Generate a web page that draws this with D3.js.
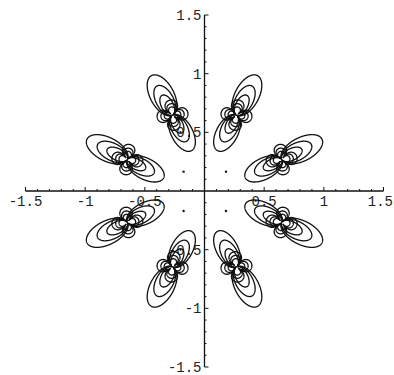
<!DOCTYPE html>
<html>
<head>
<meta charset="utf-8">
<script src="https://cdn.jsdelivr.net/npm/d3@7"></script>
<style>
  html, body { margin: 0; padding: 0; background: #fff; }
  svg { display: block; }
  text { font-family: "Liberation Mono", "DejaVu Sans Mono", monospace; font-size: 14px; fill: #222; }
</style>
</head>
<body>
<svg id="chart" width="394" height="375"></svg>
<script>
// Eight singular points on a ring, each with dipole-like lobes and four small petals
const clusterAngles = [22.5, 67.5, 112.5, 157.5, 202.5, 247.5, 292.5, 337.5];
const clusterHand   = [1, -1, 1, -1, 1, -1, 1, -1];
const clusterRadius = 0.70;

// contour reach of the lobes (from the centre to the tip) and of the petals
const lobeLengths = [0.38, 0.28, 0.19];
const petalReach  = [0.13, 0.098, 0.07];

// isolated points near the origin
const dotX = [-0.175, 0.18, -0.175, 0.18];
const dotY = [0.165, 0.165, -0.17, -0.17];

// axis ticks
const majorTicks = [-1.5, -1, -0.5, 0.5, 1, 1.5];
const tickLabels = ["-1.5", "-1", "-0.5", "0.5", "1", "1.5"];

const W = 394;
const svg = d3.select("#chart");
const x = d3.scaleLinear().domain([-1.5, 1.5]).range([25.5, 383.5]);
const y = d3.scaleLinear().domain([-1.5, 1.5]).range([367, 15]);

// ---- local field around one singular point (u: radial, v: tangential) ----
const h = 0.002, u0 = -0.42, v0 = -0.22;
const n = 420, m = 220;
const lobeTilt = 5 * Math.PI / 180;      // lobe axis vs radial direction
const petalRot = -15 * Math.PI / 180;    // petal axis vs radial direction
const aspect = 1.9;                      // lobe elongation
const inwardScale = 0.9;                 // inner lobe relative size

const lobeField = new Float64Array(n * m);
const petalField = new Float64Array(n * m);
const cT = Math.cos(lobeTilt), sT = Math.sin(lobeTilt);
for (let j = 0; j < m; j++) {
  const v = v0 + (j + 0.5) * h;
  for (let i = 0; i < n; i++) {
    const u = u0 + (i + 0.5) * h;
    const up = u * cT + v * sT, vp = -u * sT + v * cT;
    let L = up / (up * up + aspect * aspect * vp * vp);
    if (up < 0) L *= inwardScale;
    lobeField[i + j * n] = Math.abs(L);
    const rho = Math.hypot(u, v);
    const psi = Math.atan2(v, u) - petalRot;
    petalField[i + j * n] = Math.abs(Math.cos(2 * psi)) / (rho * rho * rho);
  }
}

const lobeContours = d3.contours().size([n, m])
  .thresholds(lobeLengths.map(l => 1 / l))(lobeField);
const petalContours = d3.contours().size([n, m])
  .thresholds(petalReach.map(r => 1 / (r * r * r)))(petalField);

function clusterPath(k) {
  const th = clusterAngles[k] * Math.PI / 180;
  const c = Math.cos(th), s = Math.sin(th), sg = clusterHand[k];
  const cx = clusterRadius * c, cy = clusterRadius * s;
  return d3.geoPath(d3.geoTransform({
    point(X, Y) {
      const u = u0 + X * h, v = v0 + Y * h;
      const gx = cx + u * c - sg * v * s;
      const gy = cy + u * s + sg * v * c;
      this.stream.point(x(gx), y(gy));
    }
  }));
}

// ---- axes ----
const axes = svg.append("g").attr("stroke", "#111").attr("stroke-width", 1.3);
axes.append("line").attr("x1", x(-1.5)).attr("x2", x(1.5)).attr("y1", y(0)).attr("y2", y(0));
axes.append("line").attr("x1", x(0)).attr("x2", x(0)).attr("y1", y(-1.5)).attr("y2", y(1.5));

const minorTicks = d3.range(-15, 16).filter(i => i % 5 !== 0).map(i => i / 10);
const tickG = svg.append("g").attr("stroke", "#111").attr("stroke-width", 1);
majorTicks.forEach(t => {
  tickG.append("line").attr("x1", x(t)).attr("x2", x(t)).attr("y1", y(0)).attr("y2", y(0) - 4);
  tickG.append("line").attr("x1", x(0)).attr("x2", x(0) + 4).attr("y1", y(t)).attr("y2", y(t));
});
minorTicks.forEach(t => {
  tickG.append("line").attr("x1", x(t)).attr("x2", x(t)).attr("y1", y(0)).attr("y2", y(0) - 2);
  tickG.append("line").attr("x1", x(0)).attr("x2", x(0) + 2).attr("y1", y(t)).attr("y2", y(t));
});

majorTicks.forEach((t, i) => {
  // keep the rightmost label inside the frame
  const half = tickLabels[i].length * 4.2;
  const tx = Math.min(x(t), W - 1 - half);
  svg.append("text").attr("x", tx).attr("y", y(0) + 15)
    .attr("text-anchor", "middle").text(tickLabels[i]);
  svg.append("text").attr("x", x(0) - 3).attr("y", y(t) + 5)
    .attr("text-anchor", "end").text(tickLabels[i]);
});

// ---- contour lines ----
const lines = svg.append("g").attr("fill", "none").attr("stroke", "#111")
  .attr("stroke-width", 1.3).attr("stroke-linejoin", "round");
clusterAngles.forEach((a, k) => {
  const path = clusterPath(k);
  lines.selectAll(null).data(lobeContours).enter().append("path").attr("d", path);
  lines.selectAll(null).data(petalContours).enter().append("path").attr("d", path);
});

svg.append("g").selectAll("circle").data(dotX).enter().append("circle")
  .attr("cx", (d, i) => x(dotX[i])).attr("cy", (d, i) => y(dotY[i]))
  .attr("r", 1.2).attr("fill", "#111");
</script>
</body>
</html>
